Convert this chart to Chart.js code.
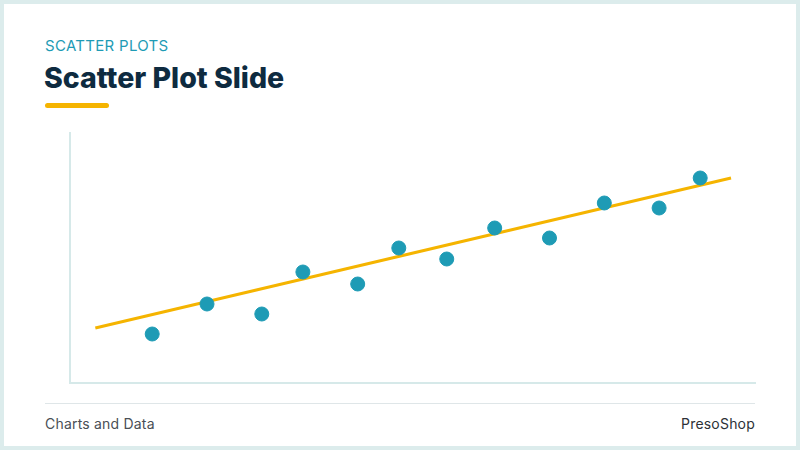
<!DOCTYPE html>
<html>
<head>
<meta charset="utf-8">
<script src="https://cdn.jsdelivr.net/npm/chart.js@4"></script>
<style>
  html, body { margin: 0; padding: 0; }
  body { width: 800px; height: 450px; position: relative; background: #fff; overflow: hidden; font-family: "Inter", "Open Sans", sans-serif; }
  .frame { position: absolute; left: 0; top: 0; width: 792px; height: 442px; border: 4px solid #dcecec; }
  .kicker { position: absolute; left: 45px; top: 36px; font-size: 15px; color: #1e9bb5; letter-spacing: 0.3px; }
  .title { position: absolute; left: 44px; top: 60px; font-size: 28.5px; font-weight: 800; color: #0e2b40; letter-spacing: 0px; }
  .bar { position: absolute; left: 45px; top: 103px; width: 64px; height: 5px; border-radius: 3px; background: #f5b400; }
  .footline { position: absolute; left: 45px; top: 403px; width: 710px; height: 1px; background: #dfe6e8; }
  .foot { position: absolute; top: 415px; font-size: 14px; color: #4a4f55; letter-spacing: 0.2px; }
  #wrap { position: absolute; left: 60px; top: 123px; width: 705px; height: 270px; }
</style>
</head>
<body>
<div class="frame"></div>
<div class="kicker">SCATTER PLOTS</div>
<div class="title">Scatter Plot Slide</div>
<div class="bar"></div>
<div id="wrap"><canvas id="graph"></canvas></div>
<div class="footline"></div>
<div class="foot" style="left:45px">Charts and Data</div>
<div class="foot" style="right:45px;color:#2c3136">PresoShop</div>

<script>
// valeurs
var xs = [12, 20, 28, 34, 42, 48, 55, 62, 70, 78, 86, 92];
var ys = [19.6, 31.6, 27.6, 44.4, 39.6, 54, 49.6, 62, 58, 72, 70, 82];
// droite de tendance (deux extrémités)
var trendX = [3.7, 96.5];
var trendY = [22, 82];

var points = xs.map(function (x, i) { return { x: x, y: ys[i] }; });
var trend = trendX.map(function (x, i) { return { x: x, y: trendY[i] }; });

const ctx = document.getElementById("graph");
const chart = new Chart(ctx, {
  type: "scatter",
  data: {
    datasets: [
      {
        type: "line",
        data: trend,
        borderColor: "#f5b400",
        borderWidth: 3,
        pointRadius: 0,
        fill: false,
        order: 2,
      },
      {
        data: points,
        backgroundColor: "#1e9bb5",
        borderColor: "#1e9bb5",
        pointRadius: 7,
        pointHoverRadius: 7,
        order: 1,
      },
    ],
  },
  options: {
    responsive: true,
    maintainAspectRatio: false,
    animation: false,
    layout: { padding: { left: 10, right: 10, top: 10, bottom: 10 } },
    plugins: { legend: { display: false }, tooltip: { enabled: false } },
    scales: {
      x: {
        type: "linear",
        min: 0,
        max: 100,
        grid: { display: false, drawTicks: false, tickLength: 0 },
        ticks: { display: false, padding: 0 },
        border: { display: true, color: "#d6e9e9", width: 2 },
      },
      y: {
        min: 0,
        max: 100,
        grid: { display: false, drawTicks: false, tickLength: 0 },
        ticks: { display: false, padding: 0 },
        border: { display: true, color: "#d6e9e9", width: 2 },
      },
    },
  },
});
</script>
</body>
</html>
